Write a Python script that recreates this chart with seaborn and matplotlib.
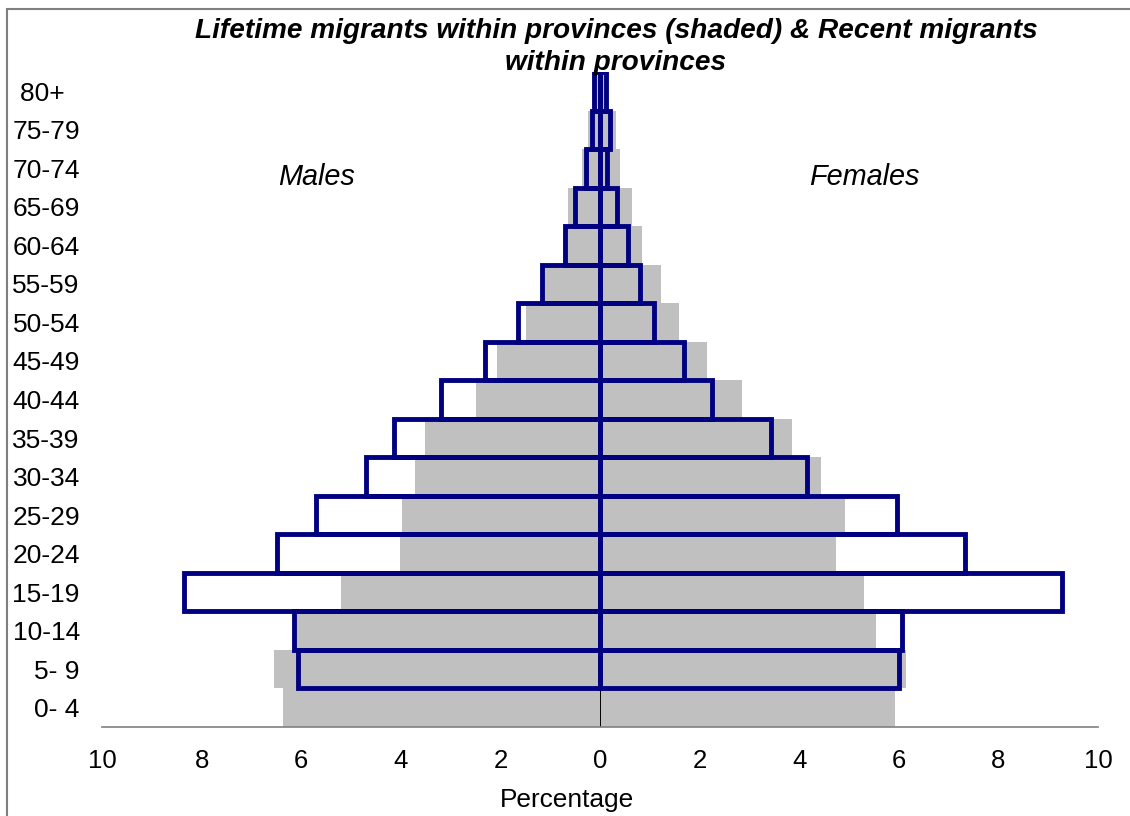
import numpy as np
import pandas as pd
import seaborn as sns
import matplotlib
matplotlib.use("Agg")
import matplotlib.pyplot as plt
from matplotlib.patches import Rectangle

# age groups, youngest first
ages = ["0- 4", "5- 9", "10-14", "15-19", "20-24", "25-29", "30-34", "35-39",
        "40-44", "45-49", "50-54", "55-59", "60-64", "65-69", "70-74", "75-79", "80+"]

# lifetime migrants within provinces (shaded), percent
lifetime_male = [6.36, 6.55, 6.12, 5.21, 4.02, 3.98, 3.72, 3.51, 2.50, 2.07,
                 1.49, 1.17, 0.73, 0.64, 0.37, 0.25, 0.16]
lifetime_female = [5.93, 6.15, 5.55, 5.31, 4.73, 4.92, 4.44, 3.86, 2.85, 2.15,
                   1.58, 1.23, 0.85, 0.64, 0.41, 0.33, 0.15]

# recent migrants within provinces (outlined), percent; none for 0-4
recent_male = [None, 6.06, 6.15, 8.36, 6.49, 5.71, 4.70, 4.14, 3.20, 2.31,
               1.65, 1.16, 0.70, 0.50, 0.28, 0.16, 0.13]
recent_female = [None, 6.00, 6.07, 9.28, 7.32, 5.96, 4.16, 3.44, 2.24, 1.68,
                 1.09, 0.80, 0.57, 0.35, 0.15, 0.21, 0.13]

x_ticks = [-10, -8, -6, -4, -2, 0, 2, 4, 6, 8, 10]

sns.set_style("white")
plt.rcParams["font.family"] = ["Liberation Sans", "DejaVu Sans"]
plt.rcParams["text.color"] = "black"
plt.rcParams["xtick.labelcolor"] = "black"
plt.rcParams["ytick.labelcolor"] = "black"

df = pd.DataFrame({
    "age": ages,
    "life_m": [-v for v in lifetime_male],
    "life_f": lifetime_female,
    "rec_m": [None if v is None else -v for v in recent_male],
    "rec_f": recent_female,
})
order = ages[::-1]  # seaborn puts the first category at the top

fig = plt.figure(figsize=(11.3, 8.16), dpi=100)
ax = fig.add_axes([102 / 1130, 1 - 727 / 816, 996 / 1130, 655 / 816])

grey = "#C0C0C0"
navy = "#000080"
for col in ["life_m", "life_f"]:
    sns.barplot(data=df, x=col, y="age", order=order, orient="h", color=grey,
                width=1.0, errorbar=None, saturation=1, linewidth=0, ax=ax)

ax.axvline(0, color="black", lw=0.7, zorder=2)

for col in ["rec_m", "rec_f"]:
    d = df.dropna(subset=[col])
    sns.barplot(data=d, x=col, y="age", order=order, orient="h", color=navy,
                width=1.0, errorbar=None, saturation=1, fill=False,
                linewidth=3.5, ax=ax, zorder=3)

ax.set_xlim(-10, 10)
ax.set_ylim(len(ages) - 0.5, -0.5)
ax.set_xticks(x_ticks)
ax.set_xticklabels([str(abs(t)) for t in x_ticks], fontsize=18.5)
ax.set_yticks(range(len(order)))
ax.set_yticklabels([a + "  " if a == "80+" else a for a in order], fontsize=19)
ax.tick_params(axis="y", length=0, pad=16)
ax.tick_params(axis="x", length=5, width=1, color="#808080", direction="out", pad=11)
for s in ["top", "right", "left"]:
    ax.spines[s].set_visible(False)
ax.spines["bottom"].set_color("#808080")
ax.spines["bottom"].set_linewidth(1.2)
ax.set_xlabel("")
ax.set_ylabel("")

ax.text(-5.7, 2.23, "Males", fontsize=20.8, style="italic", ha="center", va="center")
ax.text(5.3, 2.23, "Females", fontsize=20.8, style="italic", ha="center", va="center")

fig.text(616 / 1130, 1 - 47 / 816,
         "Lifetime migrants within provinces (shaded) & Recent migrants\nwithin provinces",
         fontsize=20.2, fontweight="bold", style="italic", ha="center", va="center",
         linespacing=1.25)
fig.text(567 / 1130, 1 - 800 / 816, "Percentage", fontsize=18.9, ha="center", va="center")

# grey frame of the embedded chart, cut off at right and bottom
fig.patches.append(Rectangle((7 / 1130, -0.1), 1.2, 1.1 - 9 / 816, transform=fig.transFigure,
                             fill=False, edgecolor="#808080", lw=1.5))

fig.savefig("out.png", dpi=100)
